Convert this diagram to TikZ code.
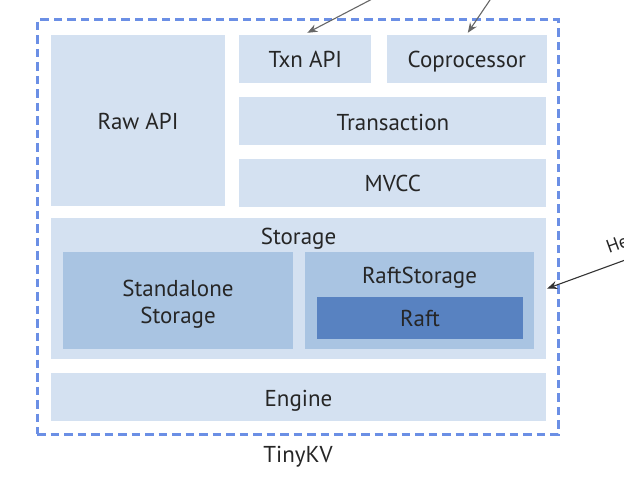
\documentclass[tikz,border=0pt]{standalone}
\usepackage{fontspec}
\setmainfont{PT Sans}
\usetikzlibrary{positioning,arrows.meta}
\definecolor{pale}{HTML}{D4E1F1}
\definecolor{mid}{HTML}{A9C4E2}
\definecolor{deep}{HTML}{5882C1}
\definecolor{dash}{HTML}{6B8FE5}
\begin{document}
\begin{tikzpicture}[x=1pt,y=-1pt,
  box/.style = {fill=pale, text=black!85, inner sep=0pt, text height=17.5pt, text depth=0pt, font=\fontsize{23}{26.7}\selectfont},
  txt/.style = {text=black!85, inner sep=0pt, align=center, font=\fontsize{23}{26.7}\selectfont},
  arr/.style = {-{Stealth[length=10pt,width=8pt]}, line width=1.1pt, draw=black!60}]
\useasboundingbox (0,0) rectangle (624,484);
% outer frame
\node[draw=dash, line width=3pt, dash pattern=on 8.5pt off 5pt, minimum width=521pt, minimum height=414pt, inner sep=0pt] (kv) at (297.5,227) {};
\node[txt, anchor=base] (tinykv) at (298,462.7) {TinyKV};
% upper layers
\node[box, minimum width=174pt, minimum height=171pt] (raw) at (138,120.5) {Raw API};
\node[box, minimum width=132pt, minimum height=48pt, anchor=north west] (txn) at ([xshift=14pt]raw.north east) {Txn API};
\node[box, minimum width=160pt, minimum height=48pt, anchor=north west] (cop) at ([xshift=15pt]txn.north east) {Coprocessor};
\node[box, minimum width=307pt, minimum height=48pt, anchor=north west] (trans) at ([yshift=-14pt]txn.south west) {Transaction};
\node[box, minimum width=307pt, minimum height=48pt, anchor=north west] (mvcc) at ([yshift=-13pt]trans.south west) {MVCC};
% storage
\node[box, minimum width=495pt, minimum height=141pt] (storage) at (298.5,288.5) {};
\node[txt, anchor=base] (storelbl) at (298.5,244.3) {Storage};
\node[box, fill=mid, minimum width=230pt, minimum height=97pt] (alone) at (178,300.5) {};
\node[txt, anchor=north] (alonelbl) at (178,280.3) {Standalone\\Storage};
\node[box, fill=mid, minimum width=229pt, minimum height=97pt] (raftst) at (419.5,300.5) {};
\node[txt, anchor=base] (raftlbl) at (419.5,283.3) {RaftStorage};
\node[box, fill=deep, minimum width=206pt, minimum height=42pt] (raft) at (420,318) {Raft};
\node[box, minimum width=495pt, minimum height=48pt, anchor=north] (engine) at ([yshift=-14pt]storage.south) {Engine};
% incoming arrows
\coordinate (u1) at (376,-3);
\coordinate (u2) at (492,-3);
\coordinate (h) at (628,259);
\draw[arr] (u1) -- ([xshift=2pt,yshift=2pt]txn.north);
\draw[arr] (u2) -- ([xshift=1pt,yshift=2pt]cop.north);
\draw[arr, draw=black!80] (h) -- ([xshift=1pt]storage.east);
\node[txt, anchor=base west, rotate=20, font=\fontsize{18.5}{20}\selectfont] (hb) at (609,254) {He};
\end{tikzpicture}
\end{document}
